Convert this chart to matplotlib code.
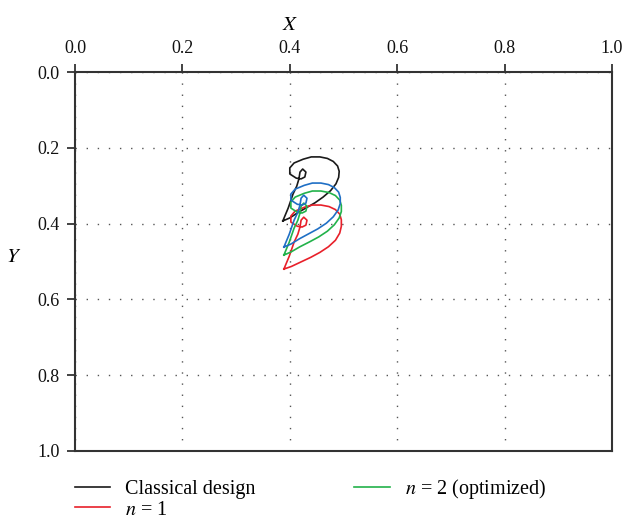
import matplotlib
matplotlib.use("Agg")
import matplotlib.pyplot as plt

plt.rcParams["font.family"] = ["Liberation Serif", "DejaVu Serif"]
plt.rcParams["mathtext.fontset"] = "stix"

# trajectories (X, Y)
classical_x = [0.387, 0.397, 0.406, 0.413, 0.417, 0.419, 0.424, 0.430, 0.428, 0.421, 0.412, 0.400, 0.400, 0.408, 0.425,
               0.440, 0.456, 0.470, 0.481, 0.489, 0.492, 0.491, 0.486, 0.476, 0.462, 0.447, 0.431, 0.415, 0.400, 0.387]
classical_y = [0.393, 0.359, 0.322, 0.301, 0.282, 0.264, 0.256, 0.264, 0.277, 0.282, 0.280, 0.269, 0.253, 0.240, 0.230,
               0.224, 0.224, 0.228, 0.236, 0.248, 0.262, 0.278, 0.295, 0.313, 0.330, 0.345, 0.358, 0.371, 0.385, 0.393]

blue_x = [0.389, 0.399, 0.408, 0.415, 0.419, 0.421, 0.426, 0.432, 0.430, 0.423, 0.414, 0.402, 0.402, 0.410, 0.427,
          0.442, 0.458, 0.472, 0.483, 0.491, 0.494, 0.494, 0.490, 0.481, 0.468, 0.452, 0.435, 0.418, 0.402, 0.389]
blue_y = [0.462, 0.428, 0.391, 0.370, 0.351, 0.333, 0.325, 0.333, 0.346, 0.351, 0.349, 0.338, 0.322, 0.309, 0.299,
          0.293, 0.293, 0.297, 0.305, 0.317, 0.331, 0.347, 0.364, 0.382, 0.399, 0.414, 0.427, 0.440, 0.454, 0.462]

n2_x = [0.389, 0.399, 0.408, 0.415, 0.419, 0.421, 0.426, 0.432, 0.430, 0.423, 0.414, 0.402, 0.402, 0.410, 0.427,
        0.442, 0.458, 0.473, 0.485, 0.493, 0.496, 0.496, 0.492, 0.483, 0.470, 0.454, 0.437, 0.419, 0.402, 0.389]
n2_y = [0.483, 0.449, 0.412, 0.391, 0.372, 0.354, 0.346, 0.354, 0.367, 0.372, 0.370, 0.359, 0.343, 0.330, 0.320,
        0.314, 0.314, 0.318, 0.326, 0.338, 0.352, 0.368, 0.385, 0.403, 0.420, 0.435, 0.448, 0.461, 0.475, 0.483]

n1_x = [0.389, 0.399, 0.408, 0.415, 0.419, 0.421, 0.426, 0.432, 0.430, 0.423, 0.414, 0.402, 0.402, 0.410, 0.427,
        0.442, 0.458, 0.473, 0.485, 0.493, 0.496, 0.496, 0.493, 0.485, 0.472, 0.456, 0.439, 0.421, 0.403, 0.389]
n1_y = [0.520, 0.486, 0.449, 0.428, 0.409, 0.391, 0.383, 0.391, 0.404, 0.409, 0.407, 0.396, 0.380, 0.367, 0.357,
        0.351, 0.351, 0.355, 0.363, 0.375, 0.390, 0.407, 0.425, 0.444, 0.461, 0.476, 0.489, 0.501, 0.513, 0.520]

ticks = [0.0, 0.2, 0.4, 0.6, 0.8, 1.0]

fig = plt.figure(figsize=(6.23, 5.2), dpi=100)
ax = fig.add_axes([0.1204, 0.1327, 0.8619, 0.7288])

ax.plot(classical_x, classical_y, color="#1a1a1a", lw=1.2, label="Classical design")
ax.plot(n1_x, n1_y, color="#e8202a", lw=1.2, label="$n$ = 1")
ax.plot(n2_x, n2_y, color="#22b24a", lw=1.2, label="$n$ = 2 (optimized)")
ax.plot(blue_x, blue_y, color="#1f6fc5", lw=1.2)

ax.set_xlim(0, 1)
ax.set_ylim(1, 0)
ax.set_xticks(ticks)
ax.set_yticks(ticks)
ax.set_xticklabels([f"{t:.1f}" for t in ticks])
ax.set_yticklabels([f"{t:.1f}" for t in ticks])
ax.xaxis.tick_top()
ax.tick_params(axis="both", direction="out", length=6, width=1.2, pad=5, labelsize=13,
               colors="#222", labelcolor="#111")
ax.grid(True, color="#555", linestyle=(0, (1, 7)), lw=1.0)
for s in ax.spines.values():
    s.set_linewidth(1.5)
    s.set_color("#333")

ax.set_xlabel("$X$", fontsize=15)
ax.xaxis.set_label_position("top")
ax.xaxis.set_label_coords(0.4, 1.11)
ax.set_ylabel("$Y$", fontsize=15, rotation=0)
ax.yaxis.set_label_coords(-0.115, 0.485)

fig.legend(loc="upper left", bbox_to_anchor=(0.1204, 0.083), ncol=2, frameon=False,
           fontsize=14.5, handlelength=1.75, handletextpad=0.75, columnspacing=4.9,
           labelspacing=0.08, borderpad=0, borderaxespad=0)

fig.savefig("out.png", dpi=100)
